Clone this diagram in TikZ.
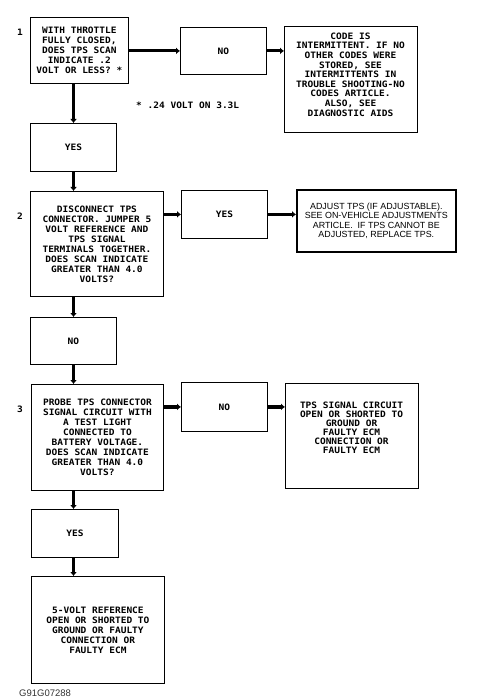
\documentclass[tikz,border=0pt]{standalone}
\usepackage{fontspec}
\setmainfont{Liberation Sans}
\newfontfamily\mfont{DejaVu Sans Mono}[FakeStretch=1.08]
\usetikzlibrary{arrows.meta}
\begin{document}
\begin{tikzpicture}[x=1pt,y=-1pt,
  mtext/.style={font={\mfont\bfseries\fontsize{8.8}{10}\selectfont}, align=center, inner sep=0pt},
  box/.style={draw, line width=0.8pt, inner sep=0pt, anchor=north west, mtext},
  conn/.style={line width=3.2pt, -{Latex[length=4pt,width=7pt]}},
  num/.style={mtext}
]
\useasboundingbox (0,0) rectangle (493,700);
\coordinate (cx) at (73.5,0);

% row 1
\node[box, minimum width=98pt, minimum height=66pt] (q1) at (30,17)
  {WITH THROTTLE\\FULLY CLOSED,\\DOES TPS SCAN\\INDICATE .2\\VOLT OR LESS? *};
\node[num] (n1) at (20,32) {1};
\node[box, minimum width=86pt, minimum height=47pt] (no1) at (180,27) {NO};
\node[box, minimum width=133pt, minimum height=106pt] (code) at (284,26) {};
\node[mtext, font={\mfont\bfseries\fontsize{8.8}{9.6}\selectfont}] (codetxt) at (350.5,74.5)
  {CODE IS\\INTERMITTENT. IF NO\\OTHER CODES WERE\\STORED, SEE\\INTERMITTENTS IN\\TROUBLE SHOOTING-NO\\CODES ARTICLE.\\ALSO, SEE\\DIAGNOSTIC AIDS};
\node[mtext, anchor=west] (note) at (136,105) {* .24 VOLT ON 3.3L};

% yes 1
\node[box, minimum width=86pt, minimum height=48pt] (yes1) at (30,123) {YES};

% row 2
\node[box, minimum width=133pt, minimum height=105pt] (q2) at (30,191)
  {DISCONNECT TPS\\CONNECTOR. JUMPER 5\\VOLT REFERENCE AND\\TPS SIGNAL\\TERMINALS TOGETHER.\\DOES SCAN INDICATE\\GREATER THAN 4.0\\VOLTS?};
\node[num] (n2) at (20,216) {2};
\node[box, minimum width=86pt, minimum height=48pt] (yes2) at (181,190) {YES};
\node[box, line width=1.6pt, minimum width=159pt, minimum height=62pt,
      font={\fontsize{8.9}{9.5}\selectfont}] (adj) at (296,189)
  {ADJUST TPS (IF ADJUSTABLE).\\SEE ON-VEHICLE ADJUSTMENTS\\ARTICLE.\ \ IF TPS CANNOT BE\\ADJUSTED, REPLACE TPS.};

% no 2
\node[box, minimum width=86pt, minimum height=47pt] (no2) at (30,317) {NO};

% row 3
\node[box, minimum width=132pt, minimum height=106pt] (q3) at (31,384)
  {PROBE TPS CONNECTOR\\SIGNAL CIRCUIT WITH\\A TEST LIGHT\\CONNECTED TO\\BATTERY VOLTAGE.\\DOES SCAN INDICATE\\GREATER THAN 4.0\\VOLTS?};
\node[num] (n3) at (20,409) {3};
\node[box, minimum width=86pt, minimum height=49pt] (no3) at (181,382) {NO};
\node[box, minimum width=133pt, minimum height=105pt] (tps) at (285,383) {};
\node[mtext, font={\mfont\bfseries\fontsize{8.8}{9}\selectfont}] (tpstxt) at (351.5,428)
  {TPS SIGNAL CIRCUIT\\OPEN OR SHORTED TO\\GROUND OR\\FAULTY ECM\\CONNECTION OR\\FAULTY ECM};

% yes 3
\node[box, minimum width=87pt, minimum height=48pt] (yes3) at (31,509) {YES};
\node[box, minimum width=133pt, minimum height=107pt] (fin) at (31,576)
  {5-VOLT REFERENCE\\OPEN OR SHORTED TO\\GROUND OR FAULTY\\CONNECTION OR\\FAULTY ECM};

\node[anchor=west, inner sep=0pt, text=black!80, font={\fontsize{9.5}{11}\selectfont}] (fig) at (19,693) {G91G07288};

% connectors
\draw[conn] (q1.south -| cx) -- (yes1.north -| cx);
\draw[conn] (yes1.south -| cx) -- (q2.north -| cx);
\draw[conn] (q2.south -| cx) -- (no2.north -| cx);
\draw[conn] (no2.south -| cx) -- (q3.north -| cx);
\draw[conn] (q3.south -| cx) -- (yes3.north -| cx);
\draw[conn] (yes3.south -| cx) -- (fin.north -| cx);

\draw[conn] (q1.east |- no1.west) -- (no1.west);
\draw[conn] (no1.east) -- (code.west |- no1.east);
\draw[conn] (q2.east |- yes2.west) -- (yes2.west);
\draw[conn] (yes2.east) -- (adj.west |- yes2.east);
\draw[conn] (q3.east |- no3.west) -- (no3.west);
\draw[conn] (no3.east) -- (tps.west |- no3.east);
\end{tikzpicture}
\end{document}
